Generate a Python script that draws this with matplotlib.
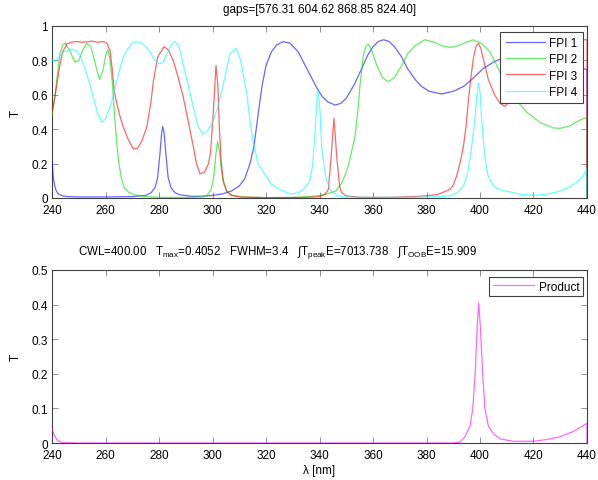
import matplotlib
matplotlib.use('Agg')
import matplotlib.pyplot as plt

plt.rcParams['font.family'] = ['Liberation Sans', 'DejaVu Sans']
plt.rcParams['font.size'] = 8.5
plt.rcParams['mathtext.fontset'] = 'custom'
plt.rcParams['mathtext.rm'] = 'Liberation Sans'

# wavelength [nm] / transmission
fpi1_x = [240, 240.5, 241, 241.5, 242, 243, 244, 246, 250, 260, 270, 275, 277, 278.5, 279.5, 280.3, 281, 281.4,
          281.9, 282.6, 283.4, 284.5, 286, 288, 292, 296, 300, 304, 307, 310, 312, 314, 315.5, 317, 318.5, 320,
          322, 324, 326.5, 329, 332, 335, 337, 339, 341, 343, 345.8, 348, 350, 353, 356, 358, 360, 362, 364,
          366, 368, 370.7, 373, 375.7, 378, 381, 385.7, 390, 394, 397, 401, 405, 408, 412, 418, 424, 430, 436,
          440, 440]
fpi1_y = [0.21, 0.12, 0.07, 0.045, 0.03, 0.018, 0.012, 0.008, 0.006, 0.006, 0.008, 0.015, 0.03, 0.06, 0.12, 0.25,
          0.38, 0.415, 0.38, 0.25, 0.12, 0.06, 0.03, 0.018, 0.01, 0.01, 0.015, 0.025, 0.04, 0.07, 0.11, 0.2, 0.3,
          0.48, 0.65, 0.77, 0.85, 0.89, 0.909, 0.9, 0.85, 0.76, 0.7, 0.64, 0.59, 0.56, 0.54, 0.55, 0.58, 0.66,
          0.76, 0.83, 0.88, 0.91, 0.92, 0.91, 0.88, 0.82, 0.75, 0.69, 0.65, 0.62, 0.605, 0.62, 0.65, 0.69, 0.75,
          0.79, 0.81, 0.84, 0.86, 0.85, 0.81, 0.77, 0.745, 0]

fpi2_x = [240, 241, 242, 243, 244, 245, 246.5, 248.6, 250, 251.5, 253, 254.5, 256, 257.7, 259, 260.2, 260.9,
          261.7, 262.5, 263.3, 264.2, 265, 266, 267, 268.5, 271, 275, 280, 290, 296, 298, 299.5, 300.5, 301.3,
          301.9, 302.6, 303.4, 304.3, 305.5, 307.5, 312, 320, 330, 336, 340, 343, 346, 348, 349.5, 350.8, 352,
          353.3, 354.3, 355.1, 356.4, 357.3, 358.2, 359.5, 361.4, 363.5, 365.7, 368, 370.7, 373, 375.7, 379.4,
          383, 385.7, 388.8, 391, 394, 397.5, 400.5, 403.7, 406, 409, 412.4, 417.4, 422.4, 427.4, 430, 433.6,
          437, 440, 440]
fpi2_y = [0.48, 0.58, 0.72, 0.84, 0.89, 0.9, 0.86, 0.79, 0.8, 0.86, 0.9, 0.88, 0.79, 0.69, 0.74, 0.84, 0.862,
          0.8, 0.68, 0.5, 0.32, 0.2, 0.11, 0.06, 0.035, 0.018, 0.008, 0.004, 0.003, 0.006, 0.015, 0.05, 0.13,
          0.26, 0.33, 0.27, 0.15, 0.08, 0.035, 0.015, 0.005, 0.002, 0.003, 0.008, 0.015, 0.025, 0.04, 0.08, 0.13,
          0.19, 0.27, 0.36, 0.5, 0.65, 0.83, 0.88, 0.895, 0.86, 0.77, 0.7, 0.676, 0.7, 0.77, 0.84, 0.885, 0.92,
          0.905, 0.885, 0.876, 0.88, 0.9, 0.92, 0.9, 0.85, 0.78, 0.68, 0.59, 0.5, 0.44, 0.407, 0.405, 0.42, 0.45,
          0.47, 0]

fpi3_x = [240, 241, 242, 243, 244, 245.5, 247, 249, 251, 253, 255, 257, 259.2, 260.5, 261.7, 262.5, 263.3, 264.2,
          265.5, 266.7, 268.5, 270.4, 272, 273.5, 275.4, 277, 277.9, 279.5, 281.9, 283.5, 285.3, 287, 289, 291,
          292.8, 294, 295.3, 297, 298.5, 299.3, 300.3, 301.3, 302, 302.5, 303.2, 304, 305.3, 307, 310, 320, 335,
          340, 342, 343.3, 344.3, 345.4, 346.5, 347.5, 348.3, 350, 355, 365, 375, 380, 384, 386.5, 388.8, 390,
          391.3, 392.5, 393.8, 394.8, 395.6, 396.5, 397.5, 398.5, 399.4, 400.3, 401.2, 403.1, 405.6, 407.5,
          409.3, 411, 412.4, 416, 422, 428, 434, 438, 440, 440]
fpi3_y = [0.5, 0.58, 0.68, 0.78, 0.85, 0.895, 0.905, 0.91, 0.905, 0.908, 0.912, 0.905, 0.91, 0.9, 0.856, 0.75,
          0.62, 0.55, 0.47, 0.41, 0.34, 0.285, 0.29, 0.33, 0.41, 0.56, 0.68, 0.82, 0.88, 0.86, 0.8, 0.71, 0.59,
          0.44, 0.3, 0.2, 0.14, 0.15, 0.2, 0.27, 0.5, 0.77, 0.65, 0.43, 0.22, 0.1, 0.04, 0.015, 0.006, 0.002,
          0.003, 0.008, 0.02, 0.05, 0.23, 0.465, 0.23, 0.07, 0.03, 0.012, 0.004, 0.003, 0.008, 0.013, 0.02, 0.035,
          0.05, 0.075, 0.13, 0.2, 0.3, 0.42, 0.556, 0.69, 0.81, 0.88, 0.9, 0.87, 0.81, 0.69, 0.595, 0.55, 0.533,
          0.56, 0.605, 0.7, 0.8, 0.87, 0.91, 0.92, 0.92, 0]

fpi4_x = [240, 241.5, 243, 244.5, 246, 247.3, 249, 250.5, 253, 255.4, 257, 258.6, 260, 261.7, 263, 264.2, 265.5,
          266.7, 268.5, 270, 271.7, 273.5, 275, 276.6, 278.5, 280.1, 281.5, 283, 284.5, 286, 287.5, 289, 291,
          292.8, 294.5, 296.3, 298, 300.3, 302, 303.4, 305, 306.5, 308.8, 310.5, 312.8, 314, 315.3, 317, 319,
          322, 325.2, 329, 332, 334, 335.5, 336.4, 337.5, 338.3, 339.2, 339.6, 340.2, 340.8, 341.8, 342.7, 344,
          345.2, 347, 350, 360, 375, 385, 388.8, 391.5, 393.8, 395.3, 396.3, 397.3, 398.1, 398.8, 399.5, 400.1,
          400.6, 401.3, 401.9, 403, 405, 408, 411.2, 415, 419.9, 425, 429.9, 433, 436.1, 438.5, 440, 440]
fpi4_y = [0.8, 0.8, 0.83, 0.85, 0.86, 0.866, 0.855, 0.83, 0.72, 0.59, 0.49, 0.44, 0.46, 0.53, 0.6, 0.68, 0.76,
          0.82, 0.87, 0.9, 0.909, 0.9, 0.88, 0.85, 0.8, 0.78, 0.79, 0.84, 0.89, 0.91, 0.88, 0.78, 0.65, 0.53,
          0.42, 0.372, 0.39, 0.45, 0.53, 0.62, 0.73, 0.837, 0.87, 0.8, 0.61, 0.45, 0.32, 0.2, 0.15, 0.08, 0.05,
          0.023, 0.03, 0.05, 0.08, 0.1, 0.2, 0.38, 0.615, 0.62, 0.5, 0.3, 0.17, 0.1, 0.05, 0.03, 0.012, 0.006,
          0.003, 0.004, 0.008, 0.013, 0.03, 0.07, 0.14, 0.23, 0.35, 0.46, 0.6, 0.668, 0.6, 0.46, 0.33, 0.23,
          0.13, 0.07, 0.045, 0.035, 0.022, 0.015, 0.022, 0.04, 0.06, 0.09, 0.125, 0.17, 0]

prod_x = [240, 241, 242, 243, 245, 250, 300, 350, 390, 392.5, 394.4, 396.3, 397.3, 398.2, 398.9, 399.5, 400.1,
          401, 401.8, 403.1, 405, 407.5, 412.4, 420, 424.9, 429.9, 434.8, 437.5, 440, 440]
prod_y = [0.04, 0.02, 0.008, 0.003, 0.001, 0, 0, 0, 0, 0.003, 0.018, 0.05, 0.1, 0.2, 0.33, 0.405, 0.34, 0.2, 0.1,
          0.05, 0.027, 0.012, 0.005, 0.005, 0.01, 0.018, 0.033, 0.045, 0.057, 0]

gaps = [576.31, 604.62, 868.85, 824.40]
cwl = 400.00
tmax = 0.4052
fwhm = 3.4
int_peak = 7013.738
int_oob = 15.909

labels = ['FPI 1', 'FPI 2', 'FPI 3', 'FPI 4']
colors = ['#0000ff', '#00dd00', '#ff0000', '#00ffff']
xticks = list(range(240, 441, 20))

edge = '#404040'


def style(ax):
	ax.set_xlim(240, 440)
	ax.set_xticks(xticks)
	ax.tick_params(direction='in', top=True, right=True, length=4, width=0.6, color='#808080',
			labelcolor='black')
	ax.tick_params(axis='x', pad=4.5)
	ax.tick_params(axis='y', pad=3)
	for s in ax.spines.values():
		s.set_color(edge)
		s.set_linewidth(0.8)


fig = plt.figure(figsize=(5.98, 4.81), dpi=100)

# top: the four filters
ax1 = fig.add_axes([0.087, 0.5863, 0.8946, 0.3576])
data = [(fpi1_x, fpi1_y), (fpi2_x, fpi2_y), (fpi3_x, fpi3_y), (fpi4_x, fpi4_y)]
for (xx, yy), c, lab in zip(data, colors, labels):
	ax1.plot(xx, yy, color=c, lw=0.9, alpha=0.6, label=lab, zorder=3)
style(ax1)
ax1.set_ylim(0, 1)
ax1.set_yticks([0, 0.2, 0.4, 0.6, 0.8, 1])
ax1.set_yticklabels(['0', '0.2', '0.4', '0.6', '0.8', '1'])
ax1.set_ylabel('T', labelpad=7)
ax1.set_title('gaps=[' + ' '.join('%.2f' % g for g in gaps) + ']', fontsize=8.5, pad=10)
leg = ax1.legend(loc='upper right', bbox_to_anchor=(0.9925, 0.965), fancybox=False, framealpha=1,
		edgecolor=edge, borderaxespad=0, handlelength=3.3, handletextpad=0.4, labelspacing=0.35,
		borderpad=0.45)
leg.get_frame().set_linewidth(0.8)

# bottom: product of the four
ax2 = fig.add_axes([0.087, 0.0769, 0.8946, 0.3597])
ax2.plot(prod_x, prod_y, color='#ff00ff', lw=0.9, alpha=0.6, label='Product', zorder=3)
style(ax2)
ax2.set_ylim(0, 0.5)
ax2.set_yticks([0, 0.1, 0.2, 0.3, 0.4, 0.5])
ax2.set_yticklabels(['0', '0.1', '0.2', '0.3', '0.4', '0.5'])
ax2.set_ylabel('T', labelpad=7)
ax2.set_xlabel('λ [nm]', labelpad=2)
t2 = ('CWL=%.2f   T$_\\mathregular{max}$=%.4f   FWHM=%.1f   \u222bT$_\\mathregular{peak}$E=%.3f   '
	'\u222bT$_\\mathregular{OOB}$E=%.3f') % (cwl, tmax, fwhm, int_peak, int_oob)
ax2.text(0.422, 1.06, t2, transform=ax2.transAxes, ha='center', va='bottom', fontsize=8.3)
leg2 = ax2.legend(loc='upper right', bbox_to_anchor=(0.9925, 0.9595), fancybox=False, framealpha=1,
		edgecolor=edge, borderaxespad=0, handlelength=3.5, handletextpad=0.4, borderpad=0.3)
leg2.get_frame().set_linewidth(0.8)

fig.savefig('out.png', dpi=100)
